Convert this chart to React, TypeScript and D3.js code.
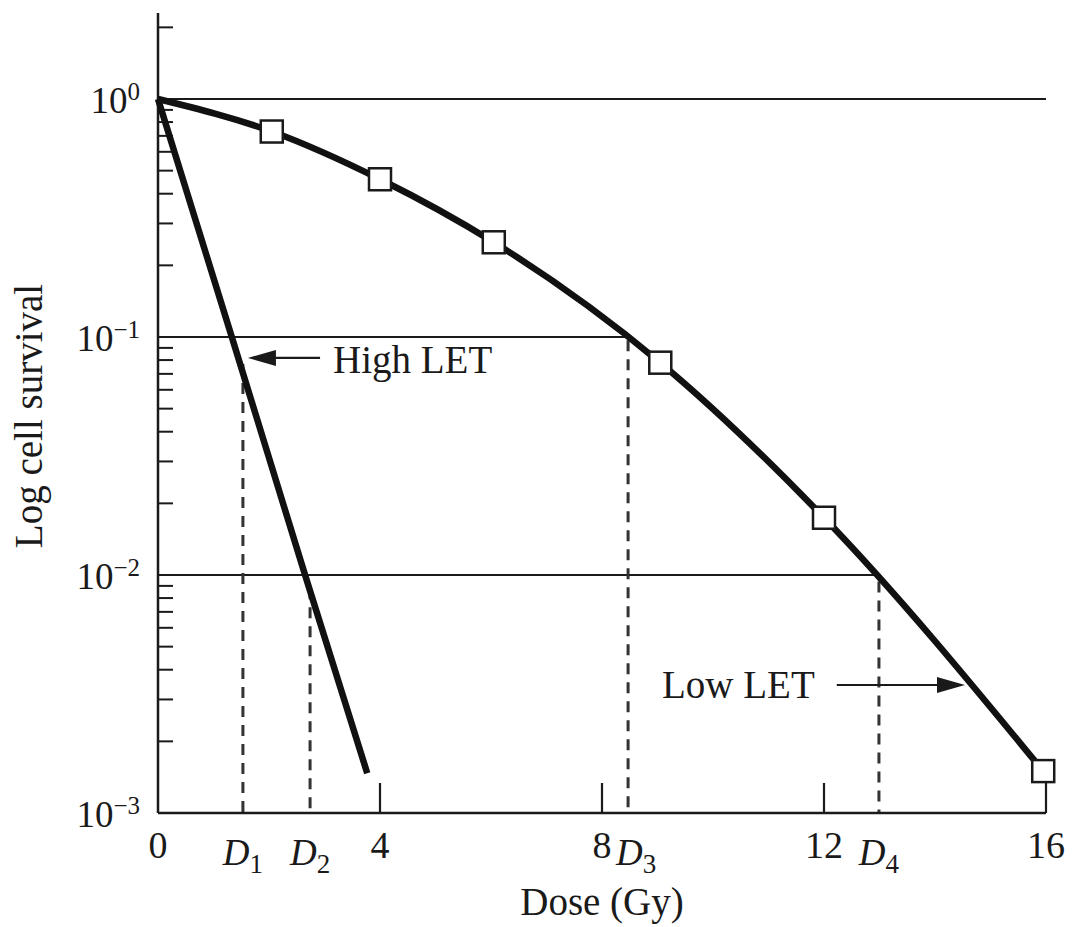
import React from "react";
import * as d3 from "d3";

// ---- data ----
const lowLetCurve: [number, number][] = [
  [0, 1], [2.05, 0.73], [4, 0.46], [6.05, 0.25], [9.05, 0.078], [12, 0.0174], [15.95, 0.0015],
];
const lowLetMarkers: [number, number][] = [
  [2.05, 0.73], [4, 0.46], [6.05, 0.25], [9.05, 0.078], [12, 0.0174], [15.95, 0.0015],
];
const highLetCurve: [number, number][] = [
  [0, 1], [1.33, 0.1], [2.65, 0.01], [3.77, 0.00147],
];
const xTickValues = [0, 4, 8, 12, 16];
const xTickLabels = ["0", "4", "8", "12", "16"];
const yDecades = [1e-3, 1e-2, 1e-1, 1];
const yDecadeExps = ["−3", "−2", "−1", "0"];
const gridValues = [1, 0.1, 0.01];
const gridEnds = [16, 8.45, 12.95];
const dNames = ["1", "2", "3", "4"];
const dDoses = [1.53, 2.74, 8.47, 12.99];
const dTops = [0.077, 0.0088, 0.097, 0.0094];
const arrowLabels = ["High LET", "Low LET"];
const arrowTails = [2.92, 12.23];
const arrowTips = [1.62, 14.54];
const arrowLevels = [0.0817, 0.00345];
const xTitle = "Dose (Gy)";
const yTitle = "Log cell survival";
const yAxisTopValue = 2.3;

const W = 1073;
const H = 927;
const FONT = "'Liberation Serif', 'Times New Roman', serif";
const INK = "#1a1a1a";

export default function App() {
  const x = d3.scaleLinear().domain([0, 16]).range([158, 1046]);
  const y = d3.scaleLog().domain([1e-3, 1]).range([813, 99]);

  const line = d3
    .line<[number, number]>()
    .x((d) => x(d[0]))
    .y((d) => y(d[1]))
    .curve(d3.curveMonotoneX);
  const straight = d3
    .line<[number, number]>()
    .x((d) => x(d[0]))
    .y((d) => y(d[1]));

  // minor ticks on log axis
  const minor: number[] = [];
  for (let e = -3; e <= 0; e++) {
    for (let m = 2; m <= 9; m++) {
      const v = m * Math.pow(10, e);
      if (v <= yAxisTopValue) minor.push(v);
    }
  }

  const x0 = x(0);
  const yBottom = y(1e-3);
  const yTop = y(yAxisTopValue);
  const mk = 22;

  return (
    <svg
      width={W}
      height={H}
      style={{ position: "absolute", left: 0, top: 0, background: "#fff" }}
      fontFamily={FONT}
    >
      {/* grid lines at decades */}
      {gridValues.map((v, i) => (
        <line key={"g" + i} x1={x0} x2={x(gridEnds[i])} y1={y(v)} y2={y(v)} stroke={INK} strokeWidth={2.2} />
      ))}

      {/* dashed dose lines */}
      {dDoses.map((d, i) => (
        <line
          key={"dl" + i}
          x1={x(d)}
          x2={x(d)}
          y1={y(dTops[i])}
          y2={yBottom}
          stroke="#333"
          strokeWidth={3}
          strokeDasharray="11 8"
        />
      ))}

      {/* axes */}
      <line x1={x0} x2={x0} y1={yTop} y2={yBottom} stroke={INK} strokeWidth={2.5} />
      <line x1={x0} x2={x(16)} y1={yBottom} y2={yBottom} stroke={INK} strokeWidth={2.5} />

      {/* y minor ticks */}
      {minor.map((v, i) => (
        <line key={"m" + i} x1={x0} x2={x0 + 15} y1={y(v)} y2={y(v)} stroke={INK} strokeWidth={2} />
      ))}

      {/* x ticks */}
      {xTickValues.filter((v) => v > 0).map((v, i) => (
        <line key={"xt" + i} x1={x(v)} x2={x(v)} y1={yBottom} y2={yBottom - 30} stroke={INK} strokeWidth={2.2} />
      ))}

      {/* y tick labels */}
      {yDecades.map((v, i) => (
        <text key={"yl" + i} x={140} y={y(v) + 14} textAnchor="end" fontSize={37} fill={INK}>
          <tspan>10</tspan>
          <tspan fontSize={25} dy={-13}>{yDecadeExps[i]}</tspan>
        </text>
      ))}

      {/* x tick labels */}
      {xTickValues.map((v, i) => (
        <text key={"xl" + i} x={x(v)} y={858} textAnchor="middle" fontSize={38} fill={INK}>
          {xTickLabels[i]}
        </text>
      ))}

      {/* D labels */}
      {dDoses.map((d, i) => (
        <text key={"dlab" + i} x={x(d) + (i === 2 ? 8 : 0)} y={865} textAnchor="middle" fontSize={37} fill={INK}>
          <tspan fontStyle="italic">D</tspan>
          <tspan fontSize={27} dy={8}>{dNames[i]}</tspan>
        </text>
      ))}

      {/* axis titles */}
      <text x={602} y={915} textAnchor="middle" fontSize={39} fill={INK}>
        {xTitle}
      </text>
      <text transform="translate(42,416) rotate(-90)" textAnchor="middle" fontSize={39} fill={INK}>
        {yTitle}
      </text>

      {/* curves */}
      <path d={straight(highLetCurve) || ""} fill="none" stroke="#111" strokeWidth={6.5} />
      <path d={line(lowLetCurve) || ""} fill="none" stroke="#111" strokeWidth={6.5} />

      {/* markers */}
      {lowLetMarkers.map((d, i) => (
        <rect
          key={"mk" + i}
          x={x(d[0]) - mk / 2}
          y={y(d[1]) - mk / 2}
          width={mk}
          height={mk}
          fill="#fff"
          stroke={INK}
          strokeWidth={2.5}
        />
      ))}

      {/* annotation arrows */}
      {arrowLabels.map((lab, i) => {
        const tx = x(arrowTails[i]);
        const hx = x(arrowTips[i]);
        const ay = y(arrowLevels[i]);
        const dir = hx > tx ? 1 : -1;
        const hl = 28;
        const hw = 8;
        return (
          <g key={"ar" + i}>
            <line x1={tx} x2={hx - dir * hl * 0.8} y1={ay} y2={ay} stroke={INK} strokeWidth={2.2} />
            <path
              d={`M${hx},${ay} L${hx - dir * hl},${ay - hw} L${hx - dir * hl},${ay + hw} Z`}
              fill={INK}
            />
            <text
              x={dir < 0 ? tx + 13 : tx - 22}
              y={ay + (dir < 0 ? 15 : 13)}
              textAnchor={dir < 0 ? "start" : "end"}
              fontSize={39}
              fill={INK}
            >
              {lab}
            </text>
          </g>
        );
      })}
    </svg>
  );
}
